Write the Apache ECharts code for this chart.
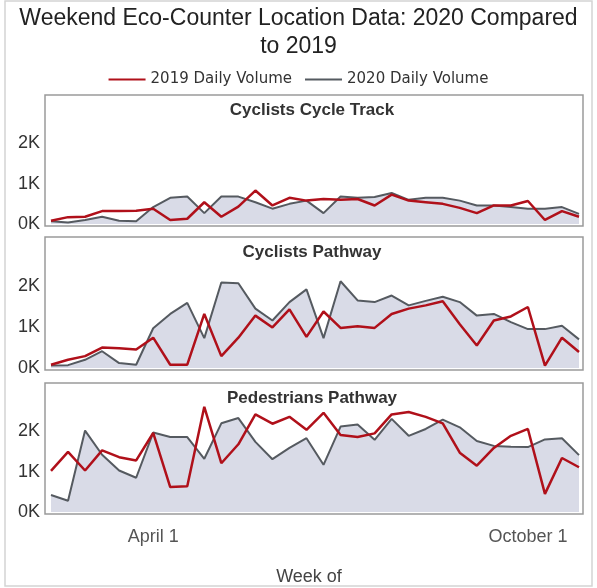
<!DOCTYPE html>
<html>
<head>
<meta charset="utf-8">
<script src="https://cdn.jsdelivr.net/npm/echarts@6/dist/echarts.min.js"></script>
<style>
  html, body { margin: 0; padding: 0; background: #fff; }
  #chart { width: 597px; height: 588px; }
</style>
</head>
<body>
<div id="chart"></div>
<script>
// 32 weekends, only two of them get a label
let weeks = []
for (let i = 0; i < 32; i++) weeks.push('W' + (i + 1))
let labelWeeks = ['W7', 'W29']
let labelText = ['April 1', 'October 1']

let panelNames = ['Cyclists Cycle Track', 'Cyclists Pathway', 'Pedestrians Pathway']

let track2019 = [80, 170, 180, 320, 320, 330, 380, 100, 130, 540, 180, 430, 830, 460, 650, 580,
    620, 600, 620, 460, 730, 580, 540, 500, 400, 270, 460, 460, 570, 100, 320, 180]
let track2020 = [70, 40, 100, 180, 80, 70, 420, 650, 680, 270, 680, 680, 540, 380, 500, 580,
    270, 680, 650, 670, 770, 600, 650, 650, 580, 460, 460, 420, 380, 380, 420, 250]

let path2019 = [80, 200, 290, 500, 480, 450, 740, 80, 80, 1320, 290, 740, 1280, 990, 1430, 760,
    1380, 980, 1020, 980, 1320, 1450, 1530, 1630, 1070, 550, 1160, 1260, 1490, 60, 740, 390]
let path2020 = [60, 70, 200, 410, 120, 80, 970, 1320, 1590, 730, 2090, 2070, 1450, 1160, 1610, 1920,
    730, 2120, 1650, 1610, 1770, 1530, 1640, 1740, 1610, 1280, 1320, 1120, 950, 950, 1030, 700]

let ped2019 = [1020, 1490, 1030, 1530, 1360, 1280, 1960, 620, 640, 2610, 1210, 1680, 2420, 2190, 2360, 2040,
    2460, 1910, 1860, 1950, 2420, 2480, 2360, 2200, 1470, 1150, 1590, 1890, 2060, 450, 1340, 1110]
let ped2020 = [420, 280, 2020, 1420, 1030, 850, 1970, 1860, 1860, 1320, 2200, 2330, 1740, 1310, 1590, 1830,
    1170, 2120, 2170, 1790, 2310, 1890, 2060, 2290, 2100, 1760, 1640, 1620, 1610, 1800, 1830, 1410]

let data2019 = [track2019, path2019, ped2019]
let data2020 = [track2020, path2020, ped2020]

// panel frames (top, bottom of box) and plot area
let panels = [
    { boxTop: 95, boxBottom: 226, top: 95, height: 129 },
    { boxTop: 237, boxBottom: 370, top: 237, height: 131 },
    { boxTop: 383, boxBottom: 514, top: 383, height: 129 }
]

const RED = '#b0101a'
const GRAY = '#555a60'
const FILL = '#d9dbe7'
const FONT = 'Liberation Sans, Arial, sans-serif'

let grids = [], xAxes = [], yAxes = [], series = [], titles = [], frames = []

titles.push({
    text: 'Weekend Eco-Counter Location Data: 2020 Compared\nto 2019',
    left: 'center',
    top: 0,
    textStyle: { fontFamily: FONT, fontSize: 23, fontWeight: 'normal', color: '#222', lineHeight: 28 }
})

panels.forEach((p, i) => {
    grids.push({ left: 51, right: 18, top: p.top, height: p.height })
    titles.push({
        text: panelNames[i],
        left: 307,
        textAlign: 'center',
        top: p.boxTop + 2,
        textStyle: { fontFamily: FONT, fontSize: 17, fontWeight: 'bold', color: '#333' }
    })
    let last = i === panels.length - 1
    xAxes.push({
        type: 'category',
        gridIndex: i,
        data: weeks,
        boundaryGap: false,
        axisLine: { show: false },
        axisTick: { show: false },
        axisLabel: {
            show: last,
            interval: (idx, v) => labelWeeks.includes(v),
            formatter: v => labelText[labelWeeks.indexOf(v)] || '',
            margin: 16,
            fontFamily: FONT,
            fontSize: 18,
            color: '#555'
        },
        name: last ? 'Week of' : '',
        nameLocation: 'middle',
        nameGap: 56,
        nameTextStyle: { fontFamily: FONT, fontSize: 18, color: '#444', padding: [0, 12, 0, 0] }
    })
    yAxes.push({
        type: 'value',
        gridIndex: i,
        min: 0,
        max: 3200,
        interval: 1000,
        splitLine: { show: false },
        axisLine: { show: false },
        axisTick: { show: false },
        axisLabel: {
            margin: 11,
            fontFamily: FONT,
            fontSize: 18,
            color: '#333',
            formatter: v => v > 2000 ? '' : (v / 1000) + 'K'
        }
    })
    series.push({
        name: '2020 Daily Volume',
        type: 'line',
        xAxisIndex: i,
        yAxisIndex: i,
        data: data2020[i],
        symbol: 'none',
        lineStyle: { color: GRAY, width: 2 },
        itemStyle: { color: GRAY },
        areaStyle: { color: FILL, opacity: 1 }
    })
    series.push({
        name: '2019 Daily Volume',
        type: 'line',
        xAxisIndex: i,
        yAxisIndex: i,
        data: data2019[i],
        symbol: 'none',
        lineStyle: { color: RED, width: 2.5 },
        itemStyle: { color: RED }
    })
    frames.push({
        type: 'rect',
        z: 100,
        silent: true,
        shape: { x: 45, y: p.boxTop, width: 538, height: p.boxBottom - p.boxTop },
        style: { fill: null, stroke: '#9a9a9a', lineWidth: 1.5 }
    })
})

frames.push({
    type: 'rect',
    z: 100,
    silent: true,
    shape: { x: 5, y: 1, width: 587, height: 585 },
    style: { fill: null, stroke: '#d4d4d4', lineWidth: 1.5 }
})

let chart = echarts.init(document.getElementById('chart'))
chart.setOption({
    backgroundColor: '#fff',
    animation: false,
    title: titles,
    legend: {
        top: 67,
        left: 'center',
        data: ['2019 Daily Volume', '2020 Daily Volume'],
        icon: 'rect',
        itemWidth: 37,
        itemHeight: 2,
        itemGap: 13,
        textStyle: { fontFamily: 'DejaVu Sans, sans-serif', fontSize: 15, color: '#333' }
    },
    grid: grids,
    xAxis: xAxes,
    yAxis: yAxes,
    series: series,
    graphic: frames
})
</script>
</body>
</html>
